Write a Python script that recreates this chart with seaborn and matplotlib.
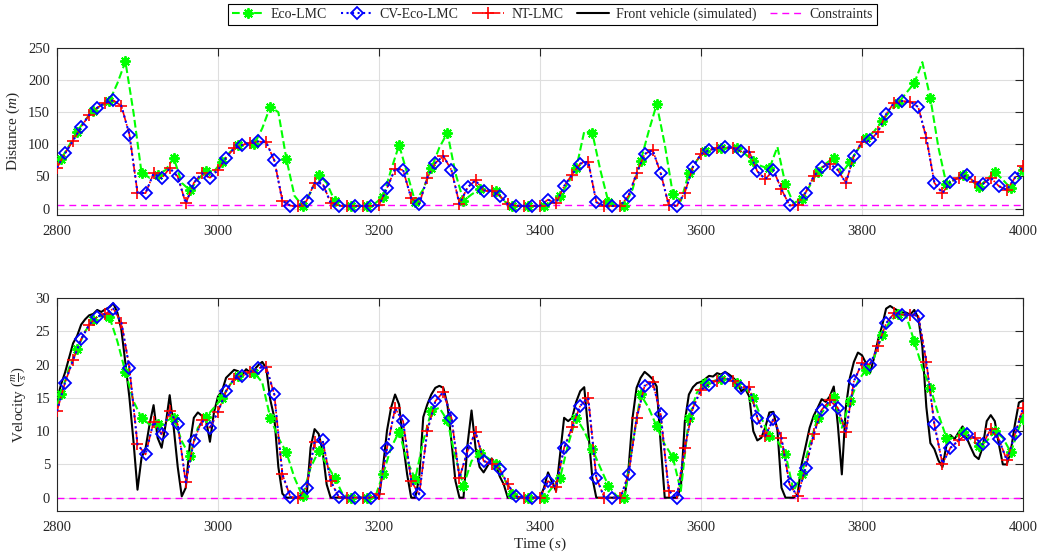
import numpy as np
import matplotlib
matplotlib.use("Agg")
import matplotlib.pyplot as plt
import seaborn as sns

# ---------------------------------------------------------------- data
# sample times [s]
t_ctrl = np.arange(2800, 4001, 10)                                   # CV-Eco-LMC / NT-LMC
t_eco = np.concatenate(([2800], np.arange(2805, 4000, 10), [4000]))  # Eco-LMC
t_front = np.arange(2800, 4001, 5)                                   # front vehicle

x_ticks = [2800, 3000, 3200, 3400, 3600, 3800, 4000]
dist_ticks = [0, 50, 100, 150, 200, 250]
vel_ticks = [0, 5, 10, 15, 20, 25, 30]

d_min = 5.0   # minimum inter-vehicle distance [m]
v_min = 0.0   # minimum velocity [m/s]

labels = ["Eco-LMC", "CV-Eco-LMC", "NT-LMC", "Front vehicle (simulated)", "Constraints"]

# inter-vehicle distance [m]
dist_eco = [
    65, 77, 98, 120, 138, 152, 160, 167, 195, 229, 150, 56, 48, 53, 60, 79, 40, 28.6, 45, 58.9, 58,
    72.9, 88, 99, 100, 100, 125, 158.9, 150, 77, 20, 4.2, 25, 53, 40, 12, 5, 4.2, 4.2, 4.2, 8,
    18, 60, 99, 55, 10.4, 30, 62.5, 95, 118, 55, 12, 22, 30, 28, 27.6, 12, 4.2, 4.2, 4.2, 4.2,
    4.2, 10, 19.8, 40, 62.5, 120, 118, 60, 10.4, 4.5, 4.2, 30, 74, 120, 162.5, 100, 23.4, 12, 55, 75,
    90, 93, 94, 95, 94, 85, 74, 66, 62.5, 96, 37.5, 8, 15.6, 35, 57.3, 70, 79.2, 55, 72.9, 92,
    109.4, 120, 136.5, 152, 164.1, 180, 195.3, 228, 172, 95, 37.5, 45, 52.1, 45, 33.9, 45, 57.3, 45, 31.3, 48,
    60,
]
dist_cv = [
    63.5, 86, 105.7, 127, 146, 157, 165, 168.5, 160, 115, 25, 24, 54.7, 47, 63, 50, 8, 40, 55, 48,
    60, 79, 94, 99, 102, 104.5, 103, 75, 12, 4.5, 4.2, 12, 40, 39, 9, 4.5, 4.2, 4.2, 4.2, 4.2,
    5, 32, 62, 60, 16, 7, 48, 71, 81.8, 60, 7, 33, 44, 28, 28, 20, 7, 4.5, 4.2, 4.2,
    4.5, 14, 8, 35, 53, 70, 73, 10, 4.2, 4.2, 4.5, 20, 54.7, 85, 91, 55, 5, 4.2, 25, 65,
    84.9, 91, 94, 96.4, 94, 89, 88.5, 58, 45.8, 60, 30, 5, 5.2, 25, 50, 64, 70, 60, 40, 82,
    104, 106, 119.8, 147, 165, 167.5, 166.5, 158, 110, 40, 24, 42, 47, 52, 41, 38, 48, 35, 29, 48,
    66,
]
# NT-LMC runs on the same trajectory as CV-Eco-LMC
dist_nt = list(dist_cv)

# velocity [m/s]
vel_eco = [
    14.0, 15.5, 19.5, 22.3, 25.0, 26.7, 27.3, 27.2, 23.5, 18.9, 14.5, 12.0, 11.0, 11.0, 11.5, 12.0, 8.5, 6.2, 10.5, 12.1, 13.5,
    15.0, 17.0, 18.3, 18.6, 18.8, 17.3, 12.0, 9.0, 6.8, 3.0, 0.2, 4.5, 7.0, 5.0, 3.0, 0.5, 0, 0, 0, 0,
    3.5, 7.5, 9.9, 5.5, 2.8, 8.5, 13.0, 13.5, 11.6, 6.0, 1.8, 5.5, 6.7, 6.0, 5.1, 3.0, 0.6, 0, 0, 0,
    0, 1.5, 3.0, 8.0, 12.0, 10.0, 7.3, 4.5, 1.8, 0.3, 0, 8.0, 15.5, 13.5, 10.7, 8.0, 6.1, 1.0, 12.0, 15.8,
    17.2, 17.5, 17.9, 17.8, 17.3, 16.5, 15.0, 12.0, 9.2, 8.5, 6.6, 1.0, 3.5, 8.0, 12.0, 13.5, 15.1, 10.5, 14.5, 17.5,
    19.2, 21.0, 24.5, 26.5, 27.6, 27.3, 23.5, 19.5, 16.5, 12.5, 9.0, 9.0, 9.8, 8.8, 7.8, 8.5, 10.0, 9.0, 6.8, 10.5,
    11.8,
]
vel_cv = [
    13.0, 17.3, 20.7, 23.8, 26.0, 27.2, 27.6, 28.4, 26.3, 19.5, 8.0, 6.5, 11.4, 9.5, 13.0, 11.0, 2.3, 8.5, 11.6, 10.5,
    12.9, 16.0, 17.9, 18.3, 18.9, 19.5, 19.6, 15.5, 3.5, 0.1, 0, 1.5, 8.4, 8.6, 2.5, 0.1, 0, 0, 0, 0,
    0.5, 7.5, 13.4, 11.5, 2.5, 0.5, 10.0, 14.5, 15.9, 12.0, 3.0, 7.0, 9.9, 5.5, 5.1, 4.3, 2.0, 0.2, 0, 0,
    0, 2.5, 1.6, 7.5, 10.6, 13.8, 15.0, 3.0, 0, 0, 0, 3.5, 11.9, 16.8, 17.4, 12.5, 1.0, 0, 7.5, 13.5,
    16.2, 17.0, 17.6, 18.0, 17.5, 16.5, 16.7, 12.0, 9.3, 11.8, 9.0, 2.0, 0.2, 4.5, 9.5, 13.2, 14.6, 13.5, 9.8, 17.5,
    20.2, 20.0, 22.8, 26.2, 27.7, 27.5, 27.5, 27.3, 20.4, 11.0, 5.1, 7.5, 8.6, 9.5, 9.0, 8.0, 10.3, 8.8, 5.6, 9.5,
    13.4,
]
vel_nt = list(vel_cv)
vel_front = [
    14.6, 17.0, 18.8, 21.0, 23.2, 24.3, 26.0, 26.8, 27.4, 27.6, 28.2, 27.9, 28.3, 28.6, 29.2, 27.8, 25.2, 20.2, 15.0, 8.5,
    1.2, 6.0, 7.4, 11.0, 13.9, 9.0, 7.5, 11.0, 15.4, 10.5, 4.6, 0.2, 1.5, 8.0, 12.0, 12.8, 12.3, 11.8, 8.4, 12.8,
    15.2, 16.0, 18.0, 18.6, 19.2, 19.0, 18.5, 19.3, 18.8, 19.2, 19.9, 20.4, 19.4, 14.7, 12.0, 4.6, 0.6, 0, 0, 0,
    0, 0, 0, 7.5, 10.3, 9.6, 7.0, 2.0, 0, 0, 0, 0, 0, 0, 0, 0, 0, 0, 0, 0,
    0, 4.6, 10.1, 13.5, 15.5, 14.0, 8.1, 3.5, 0, 0, 3.0, 12.1, 14.0, 15.5, 16.5, 16.8, 16.5, 14.0, 8.5, 2.5,
    0, 0, 8.0, 13.1, 7.5, 4.6, 3.8, 4.8, 5.9, 5.0, 3.2, 2.0, 0, 0, 0, 0, 0, 0, 0, 0,
    0, 1.5, 3.8, 2.4, 1.0, 6.5, 12.0, 11.5, 12.0, 14.4, 16.0, 16.6, 10.0, 3.0, 0, 0, 0, 0, 0, 0,
    0, 0, 4.3, 12.0, 16.5, 18.0, 18.9, 18.4, 17.8, 16.7, 8.0, 0, 0, 0, 0, 1.5, 11.5, 15.5, 16.6, 17.2,
    17.4, 17.8, 18.3, 18.2, 18.7, 18.5, 18.9, 18.5, 18.0, 17.4, 16.0, 16.4, 15.2, 10.0, 8.6, 9.0, 10.6, 12.8, 12.9, 10.1,
    1.5, 0, 0, 0, 0.5, 5.0, 7.7, 10.5, 12.3, 13.5, 14.8, 14.4, 15.2, 16.7, 11.0, 3.5, 13.6, 18.0, 20.4, 21.8,
    21.4, 20.2, 18.7, 21.0, 23.7, 25.8, 28.4, 28.8, 28.4, 28.1, 27.8, 27.8, 27.5, 28.2, 27.0, 22.7, 13.6, 8.2, 7.3, 5.6,
    4.6, 7.9, 9.4, 8.8, 9.8, 10.7, 9.0, 7.6, 6.3, 5.8, 7.6, 11.5, 12.4, 11.5, 8.1, 5.0, 5.0, 7.1, 11.0, 14.3,
    14.6,
]

# ---------------------------------------------------------------- style
sns.set_theme(style="white")
plt.rcParams.update({
    "font.family": ["Liberation Serif", "DejaVu Serif"],
    "mathtext.fontset": "custom",
    "mathtext.rm": "Liberation Serif",
    "mathtext.it": "Liberation Serif:italic",
    "mathtext.bf": "Liberation Serif:bold",
    "axes.edgecolor": "#262626",
    "axes.linewidth": 0.8,
    "xtick.color": "#262626",
    "ytick.color": "#262626",
    "text.color": "#262626",
})

GREEN, BLUE, RED, MAGENTA = "#00ff00", "#0000ff", "#ff0000", "#ff00ff"

eco_style = dict(color=GREEN, linestyle="--", linewidth=1.5, marker=(8, 2, 0),
                 markersize=7.5, markeredgewidth=1.4, markeredgecolor=GREEN,
                 markerfacecolor=GREEN, markevery=slice(1, None, 2), zorder=3)
cv_style = dict(color=BLUE, linestyle=":", linewidth=1.5, marker="D",
                markersize=6.3, markeredgewidth=1.3, markeredgecolor=BLUE,
                markerfacecolor="none", markevery=slice(1, None, 2), zorder=5)
nt_style = dict(color=RED, linestyle="-.", linewidth=1.2, marker="+",
                markersize=8, markeredgewidth=1.2, markeredgecolor=RED,
                markevery=slice(0, None, 2), zorder=4)
front_style = dict(color="black", linestyle="-", linewidth=1.5, zorder=2.5)
limit_style = dict(color=MAGENTA, linestyle=(0, (5, 3.5)), linewidth=1.0, zorder=2)


def draw(ax, x, y, style):
    sns.lineplot(x=x, y=y, ax=ax, sort=False, estimator=None, legend=False, **style)
    return ax.lines[-1]


fig = plt.figure(figsize=(10.4, 5.55), dpi=100)
ax_d = fig.add_axes([0.0548, 0.6126, 0.9288, 0.3009])
ax_v = fig.add_axes([0.0548, 0.0793, 0.9288, 0.3838])

# distance panel
ax_d.axhline(d_min, **limit_style)
draw(ax_d, t_eco, dist_eco, eco_style)
draw(ax_d, t_ctrl, dist_nt, nt_style)
draw(ax_d, t_ctrl, dist_cv, cv_style)

# velocity panel
h_lim = ax_v.axhline(v_min, **limit_style)
h_front = draw(ax_v, t_front, vel_front, front_style)
h_eco = draw(ax_v, t_eco, vel_eco, eco_style)
h_nt = draw(ax_v, t_ctrl, vel_nt, nt_style)
h_cv = draw(ax_v, t_ctrl, vel_cv, cv_style)

for ax, yt, ylim in ((ax_d, dist_ticks, (-10, 250)), (ax_v, vel_ticks, (-2, 30))):
    ax.set_xlim(2800, 4000)
    ax.set_ylim(*ylim)
    ax.set_xticks(x_ticks)
    ax.set_yticks(yt)
    ax.grid(True, color="#dedede", linewidth=0.8)
    ax.set_axisbelow(True)
    ax.tick_params(direction="in", top=True, right=True, length=6, width=0.8,
                   labelsize=10.5, pad=5)
    ax.tick_params(axis="x", pad=7)
    for s in ax.spines.values():
        s.set_visible(True)
    ax.set_xlabel("")

ax_d.set_ylabel(r"Distance $(m)$", fontsize=11)
ax_v.set_ylabel(r"Velocity $\left(\frac{m}{s}\right)$", fontsize=11)
ax_d.yaxis.set_label_coords(-0.036, 0.5)
ax_v.yaxis.set_label_coords(-0.029, 0.5)
ax_v.set_xlabel(r"Time $(s)$", fontsize=11)
ax_v.xaxis.set_label_coords(0.5, -0.115)

leg = fig.legend([h_eco, h_cv, h_nt, h_front, h_lim], labels,
                 loc="upper center", bbox_to_anchor=(0.531, 1.006), ncol=5,
                 fontsize=10, frameon=True, fancybox=False, framealpha=1,
                 edgecolor="black", handlelength=2.3, handletextpad=0.5,
                 columnspacing=1.0, borderpad=0.3, numpoints=1)
leg.get_frame().set_linewidth(0.8)

fig.savefig("out.png", dpi=100)
